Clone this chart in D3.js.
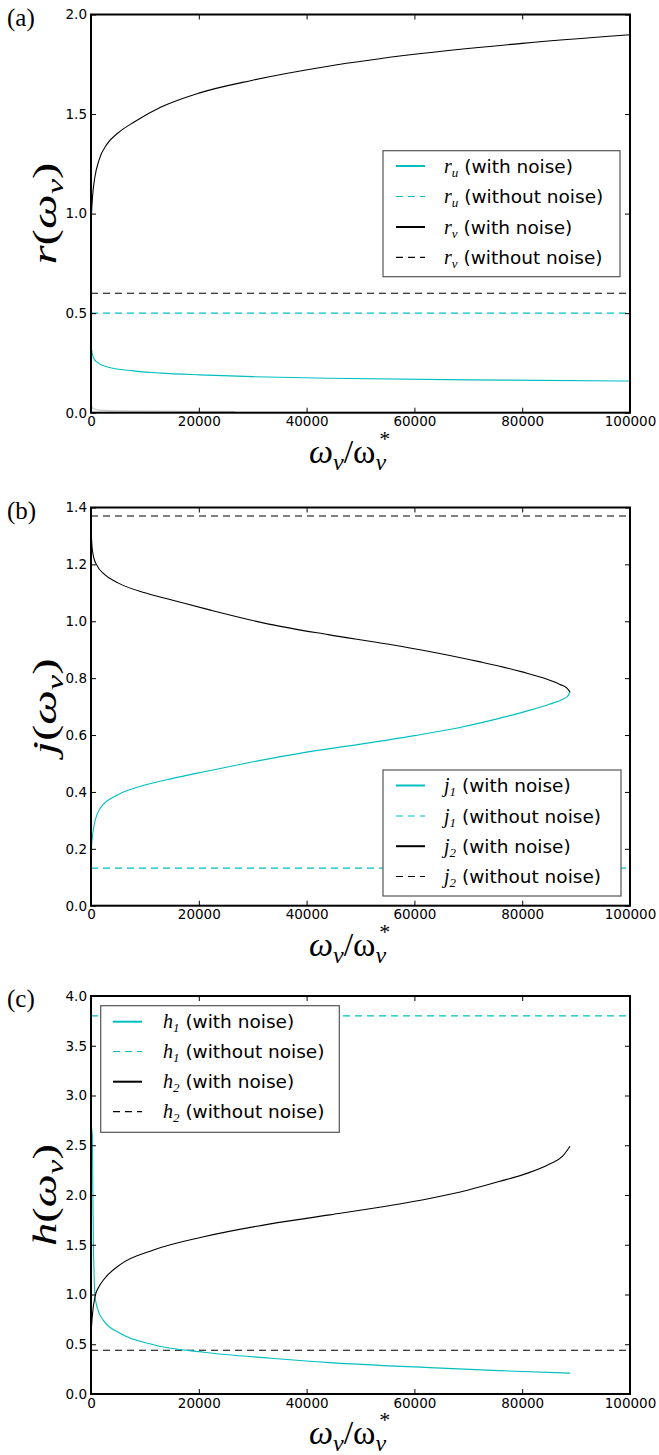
<!DOCTYPE html>
<html><head><meta charset="utf-8">
<script src="https://cdn.jsdelivr.net/npm/d3@7"></script>
<style>body{margin:0;background:#fff}</style>
</head><body><svg id="c" width="659" height="1455" xmlns="http://www.w3.org/2000/svg"></svg>
<script>
const CYAN = "#00bfbf";
const xTicks = [0, 20000, 40000, 60000, 80000, 100000];

// Panel (a)
const yTicksA = [0, 0.5, 1.0, 1.5, 2.0];
const rvNoise = [[0,0.92],[100,1.0],[300,1.09],[700,1.18],[1500,1.27],[3000,1.35],[5000,1.405],[8000,1.46],[13000,1.535],[20000,1.605],[30000,1.67],[44000,1.74],[60000,1.80],[80000,1.855],[100000,1.898]];
const ruNoise = [[0,0.34],[150,0.31],[400,0.28],[1000,0.256],[2900,0.231],[7800,0.21],[13000,0.199],[20200,0.19],[30000,0.181],[44300,0.173],[70000,0.165],[100000,0.159]];
const residueA = [[0,0.035],[500,0.02],[2000,0.012],[10000,0.008],[26700,0.006]];
const ruClean = 0.5, rvClean = 0.6;

// Panel (b)
const yTicksB = [0, 0.2, 0.4, 0.6, 0.8, 1.0, 1.2, 1.4];
const j1Noise = [[0,0.19],[100,0.21],[300,0.25],[600,0.285],[1800,0.345],[5000,0.39],[8000,0.413],[14000,0.443],[20000,0.467],[28500,0.50],[40000,0.54],[50000,0.568],[60000,0.598],[68000,0.625],[75000,0.655],[81000,0.685],[85000,0.708],[87500,0.726],[88500,0.738],[88870,0.752]];
const j2Noise = [[0,1.33],[200,1.26],[500,1.225],[1000,1.20],[2500,1.165],[5000,1.135],[10000,1.10],[15000,1.075],[22000,1.04],[33000,0.99],[44000,0.953],[55000,0.92],[63000,0.893],[72000,0.858],[80000,0.822],[84500,0.797],[87000,0.778],[88300,0.765],[88870,0.752]];
const j1Clean = 0.132, j2Clean = 1.37;

// Panel (c)
const yTicksC = [0, 0.5, 1.0, 1.5, 2.0, 2.5, 3.0, 3.5, 4.0];
const h1Noise = [[0,2.7],[250,2.6],[350,2.0],[450,1.5],[550,1.25],[750,0.98],[1200,0.86],[2300,0.74],[5400,0.61],[11600,0.495],[20900,0.42],[33300,0.36],[44300,0.315],[62800,0.265],[75700,0.235],[88870,0.21]];
const h2Noise = [[0,0.6],[200,0.76],[740,0.98],[1500,1.08],[2300,1.146],[5400,1.30],[11600,1.447],[20900,1.58],[33300,1.71],[44300,1.80],[55000,1.89],[62800,1.965],[70000,2.05],[75700,2.135],[81000,2.22],[85000,2.31],[87500,2.39],[88870,2.49]];
const h1Clean = 3.8, h2Clean = 0.44;

const legendA = [["r","u","(with noise)"],["r","u","(without noise)"],["r","v","(with noise)"],["r","v","(without noise)"]];
const legendB = [["j","1","(with noise)"],["j","1","(without noise)"],["j","2","(with noise)"],["j","2","(without noise)"]];
const legendC = [["h","1","(with noise)"],["h","1","(without noise)"],["h","2","(with noise)"],["h","2","(without noise)"]];

const svg = d3.select("#c");
const X0 = 91, X1 = 630;
const SANS = "DejaVu Sans";
const SERIF = "Liberation Serif";
const DASH = "7,5";

function panel(cfg, idx) {
  const x = d3.scaleLinear().domain([0, 100000]).range([X0, X1]);
  const y = d3.scaleLinear().domain(cfg.ydom).range([cfg.bottom, cfg.top]);
  const g = svg.append("g");
  const clipId = "clip" + idx;
  g.append("clipPath").attr("id", clipId).append("rect")
    .attr("x", X0).attr("y", cfg.top).attr("width", X1 - X0).attr("height", cfg.bottom - cfg.top);
  const plot = g.append("g").attr("clip-path", `url(#${clipId})`);
  const line = d3.line().x(d => x(d[0])).y(d => y(d[1])).curve(d3.curveMonotoneX);

  (cfg.extra || []).forEach(e => {
    plot.append("path").attr("d", line(e.data)).attr("fill", "none")
      .attr("stroke", e.color).attr("stroke-width", 1.2);
  });
  cfg.series.forEach(s => {
    if (s.const !== undefined) {
      plot.append("path").attr("d", line([[0, s.const],[100000, s.const]]))
        .attr("fill", "none").attr("stroke", s.color).attr("stroke-width", 1.1)
        .attr("stroke-dasharray", DASH);
    } else {
      plot.append("path").attr("d", line(s.data)).attr("fill", "none")
        .attr("stroke", s.color).attr("stroke-width", 1.1);
    }
  });

  const fmt = d3.format(".1f");
  const ax = (gen, tr) => {
    const a = g.append("g").attr("transform", tr).call(gen);
    a.select(".domain").remove();
    a.selectAll(".tick line").attr("stroke", "#000").attr("stroke-width", 1);
    a.selectAll("text").attr("font-family", SANS).attr("font-size", 13.5).attr("fill", "#000");
    return a;
  };
  ax(d3.axisBottom(x).tickValues(xTicks).tickSize(-5).tickPadding(4).tickFormat(d3.format("d")), `translate(0,${cfg.bottom})`);
  ax(d3.axisTop(x).tickValues(xTicks).tickSize(-5).tickFormat(""), `translate(0,${cfg.top})`);
  ax(d3.axisLeft(y).tickValues(cfg.yticks).tickSize(-5).tickPadding(4).tickFormat(fmt), `translate(${X0},0)`);
  ax(d3.axisRight(y).tickValues(cfg.yticks).tickSize(-5).tickFormat(""), `translate(${X1},0)`);

  g.append("rect").attr("x", X0).attr("y", cfg.top).attr("width", X1 - X0).attr("height", cfg.bottom - cfg.top)
    .attr("fill", "none").attr("stroke", "#000").attr("stroke-width", 2);

  // panel letter
  g.append("text").attr("x", 7).attr("y", cfg.top + 11).attr("font-family", SERIF)
    .attr("font-size", 25).text(cfg.letter);

  // x label
  const xl = g.append("text").attr("x", 309).attr("y", cfg.bottom + 50)
    .attr("font-family", SERIF).attr("font-style", "italic").attr("font-size", 34);
  xl.append("tspan").text("ω");
  xl.append("tspan").attr("font-size", 24).attr("dy", 7).text("v");
  xl.append("tspan").attr("dy", -7).attr("font-style", "normal").text("/ω");
  xl.append("tspan").attr("font-size", 24).attr("dy", 7).text("v");
  const xlen = xl.node().getComputedTextLength();
  g.append("text").attr("x", 309 + xlen - 7).attr("y", cfg.bottom + 33)
    .attr("font-family", SERIF).attr("font-size", 22).text("*");

  // y label
  const cy = (cfg.top + cfg.bottom) / 2;
  const yl = g.append("text").attr("transform", `translate(56,${cy}) rotate(-90)`)
    .attr("text-anchor", "middle").attr("font-family", SERIF).attr("font-style", "italic").attr("font-size", 34);
  yl.append("tspan").text(cfg.ysym);
  yl.append("tspan").attr("font-style", "normal").text("(");
  yl.append("tspan").text("ω");
  yl.append("tspan").attr("font-size", 24).attr("dy", 7).text("v");
  yl.append("tspan").attr("dy", -7).attr("font-style", "normal").text(")");
  const yw = yl.node().getBBox().width;
  const sx = 102 / yw;
  yl.attr("transform", `translate(56,${cy}) rotate(-90) scale(${sx},1)`);

  // legend
  const L = cfg.legend;
  g.append("rect").attr("x", L.x0).attr("y", L.y0).attr("width", L.x1 - L.x0).attr("height", L.y1 - L.y0)
    .attr("fill", "#fff").attr("stroke", "#555").attr("stroke-width", 1.2);
  L.items.forEach((it, i) => {
    const ry = L.rows[i];
    const st = cfg.legendStyle[i];
    g.append("line").attr("x1", L.sx0).attr("x2", L.sx1).attr("y1", ry).attr("y2", ry)
      .attr("stroke", st.color).attr("stroke-width", st.dash ? 1.2 : 2)
      .attr("stroke-dasharray", st.dash ? DASH : null);
    const t = g.append("text").attr("x", L.tx).attr("y", ry + 6.5).attr("font-size", 18.5);
    t.append("tspan").attr("font-family", SERIF).attr("font-style", "italic").attr("font-size", 20).text(it[0]);
    t.append("tspan").attr("font-family", SERIF).attr("font-style", "italic").attr("font-size", 13).attr("dy", 4).text(it[1]);
    t.append("tspan").attr("font-family", SANS).attr("dy", -4).text(" " + it[2]);
  });
}

const styleA = [{color: CYAN}, {color: CYAN, dash: true}, {color: "#000"}, {color: "#000", dash: true}];

panel({
  letter: "(a)", top: 14.5, bottom: 412.7, ydom: [0, 2], yticks: yTicksA, ysym: "r",
  extra: [{data: residueA, color: "#c8c8c8"}],
  series: [{const: rvClean, color: "#000"}, {const: ruClean, color: CYAN}, {data: ruNoise, color: CYAN}, {data: rvNoise, color: "#000"}],
  legend: {x0: 383, x1: 620, y0: 150.7, y1: 276.7, sx0: 396, sx1: 425, tx: 444, rows: [166, 196.5, 227, 257.3], items: legendA},
  legendStyle: styleA
}, 0);

panel({
  letter: "(b)", top: 507.5, bottom: 905.7, ydom: [0, 1.4], yticks: yTicksB, ysym: "j",
  series: [{const: j2Clean, color: "#000"}, {const: j1Clean, color: CYAN}, {data: j1Noise, color: CYAN}, {data: j2Noise, color: "#000"}],
  legend: {x0: 383, x1: 621, y0: 770, y1: 896, sx0: 396, sx1: 425, tx: 444, rows: [785.5, 816, 846.2, 876.5], items: legendB},
  legendStyle: styleA
}, 1);

panel({
  letter: "(c)", top: 996, bottom: 1394, ydom: [0, 4], yticks: yTicksC, ysym: "h",
  series: [{const: h1Clean, color: CYAN}, {const: h2Clean, color: "#000"}, {data: h1Noise, color: CYAN}, {data: h2Noise, color: "#000"}],
  legend: {x0: 100.7, x1: 339.3, y0: 1005.7, y1: 1132.3, sx0: 113, sx1: 142, tx: 163, rows: [1021.7, 1051.5, 1081.7, 1111.7], items: legendC},
  legendStyle: styleA
}, 2);
</script>
</body></html>
